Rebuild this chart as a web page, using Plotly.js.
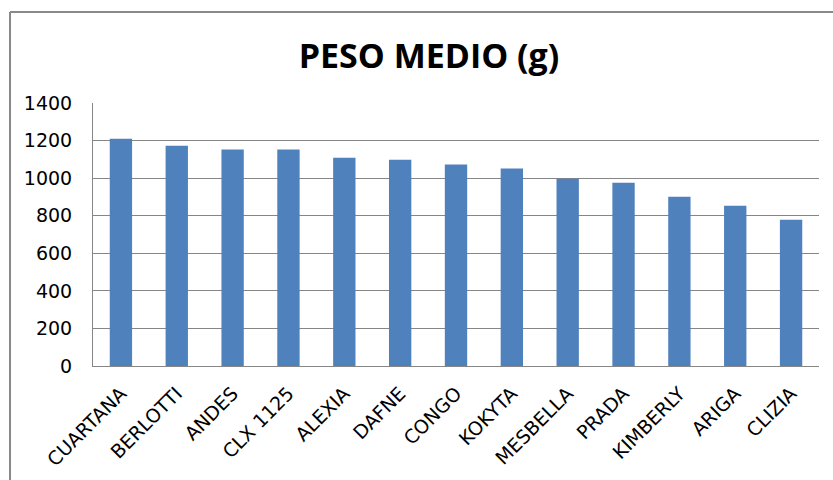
<!DOCTYPE html>
<html>
<head>
<meta charset="utf-8">
<script src="https://cdn.plot.ly/plotly-3.0.1.min.js"></script>
<style>html,body{margin:0;padding:0;background:#fff;}#chart{width:833px;height:480px;}</style>
</head>
<body>
<div id="chart"></div>
<script>
const categories = ["CUARTANA","BERLOTTI","ANDES","CLX 1125","ALEXIA","DAFNE","CONGO","KOKYTA","MESBELLA","PRADA","KIMBERLY","ARIGA","CLIZIA"];
const pesoMedio = [1210, 1172, 1152, 1152, 1108, 1098, 1072, 1051, 997, 976, 901, 853, 778];
const yTicks = [0, 200, 400, 600, 800, 1000, 1200, 1400];

const font = "DejaVu Sans, sans-serif";
const trace = {
  type: 'bar',
  x: categories,
  y: pesoMedio,
  marker: {color: '#4F81BD'},
  hoverinfo: 'x+y'
};
const layout = {
  width: 833, height: 480,
  margin: {l: 93, r: 14, t: 103, b: 114},
  paper_bgcolor: '#fff', plot_bgcolor: '#fff',
  bargap: 0.6,
  showlegend: false,
  title: {text: '<b>PESO MEDIO (g)</b>', font: {family: "Open Sans, sans-serif", size: 34, color: '#000'}, x: 0.515, xref: 'container', xanchor: 'center', y: 0.883, yref: 'container', yanchor: 'middle'},
  xaxis: {
    type: 'category', tickangle: -45, tickfont: {family: font, size: 19, color: '#000'},
    ticklabelstandoff: 8,
    showline: true, linecolor: '#868686', linewidth: 1, showgrid: false, ticks: ''
  },
  yaxis: {
    range: [0, 1400], tickvals: yTicks, ticktext: yTicks.map(String),
    tickfont: {family: font, size: 19, color: '#000'},
    ticklabelstandoff: 16,
    showgrid: true, gridcolor: '#868686', gridwidth: 1,
    showline: true, linecolor: '#868686', linewidth: 1, zeroline: false, ticks: '', ticklen: 0
  },
  shapes: [
    {type: 'line', xref: 'paper', yref: 'paper', x0: -0.1143, x1: 1.1, y0: 1.346, y1: 1.346, line: {color: '#898989', width: 2}},
    {type: 'line', xref: 'paper', yref: 'paper', x0: -0.1143, x1: -0.1143, y0: 1.346, y1: -0.5, line: {color: '#898989', width: 2}}
  ]
};
Plotly.newPlot('chart', [trace], layout, {displayModeBar: false, staticPlot: true});
</script>
</body>
</html>
